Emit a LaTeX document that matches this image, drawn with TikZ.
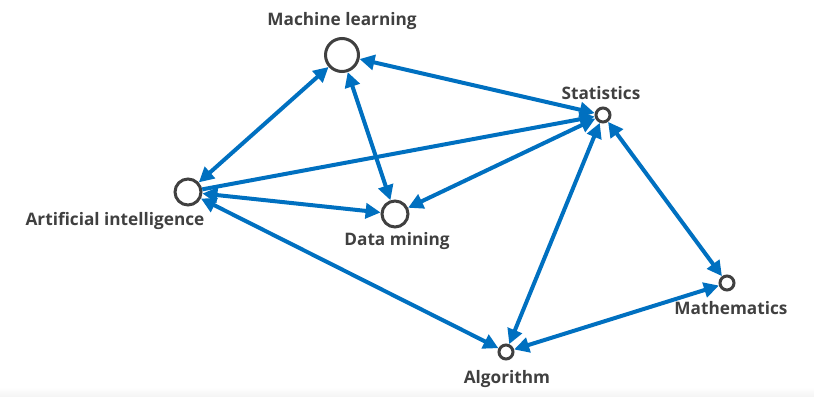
\documentclass[tikz,border=0pt]{standalone}
\usepackage{fontspec}
\setmainfont{Open Sans}
\usetikzlibrary{arrows.meta}
\definecolor{linkblue}{HTML}{0070C0}
\definecolor{ringgrey}{HTML}{404040}
\tikzset{
	topic/.style={circle, draw=ringgrey, line width=0.06cm, fill=white, inner sep=0pt},
	big/.style={topic, minimum size=0.66cm},
	mid/.style={topic, minimum size=0.52cm},
	small/.style={topic, minimum size=0.28cm},
	lbl/.style={text=ringgrey, font=\bfseries\fontsize{9.8}{12}\selectfont, inner sep=0pt},
	link/.style={draw=linkblue, line width=0.08cm, {Triangle[length=0.3cm, width=0.3cm]}-{Triangle[length=0.3cm, width=0.3cm]}},
	onelink/.style={draw=linkblue, line width=0.08cm, -{Triangle[length=0.3cm, width=0.3cm]}}
}
\begin{document}
\begin{tikzpicture}[x=0.02cm, y=0.02cm]
	\useasboundingbox (0,0) rectangle (814,396);
	\shade[top color=white, bottom color=black!4] (0,0) rectangle (814,9);
	% topics
	\node[big] (ml) at (342,341) {};
	\node[small] (stat) at (603,281) {};
	\node[mid] (ai) at (188,204) {};
	\node[mid] (dm) at (395,182) {};
	\node[small] (math) at (727,113) {};
	\node[small] (alg) at (506,44) {};
	% labels
	\node[lbl] (mllbl) at (342,375) {Machine learning};
	\node[lbl] (statlbl) at (601,303) {Statistics};
	\node[lbl] (ailbl) at (115,175) {Artificial intelligence};
	\node[lbl] (dmlbl) at (397,155) {Data mining};
	\node[lbl] (mathlbl) at (731,88) {Mathematics};
	\node[lbl] (alglbl) at (507,17) {Algorithm};
	% links
	\path[link] (ml) -- (stat);
	\path[link] (ml) -- (ai);
	\path[link] (ml) -- (dm);
	\path[onelink] (ai) -- (stat);
	\path[link] (ai) -- (dm);
	\path[link] (stat) -- (dm);
	\path[link] (stat) -- (alg);
	\path[link] (stat) -- (math);
	\path[link] (ai) -- (alg);
	\path[link] (math) -- (alg);
\end{tikzpicture}
\end{document}
